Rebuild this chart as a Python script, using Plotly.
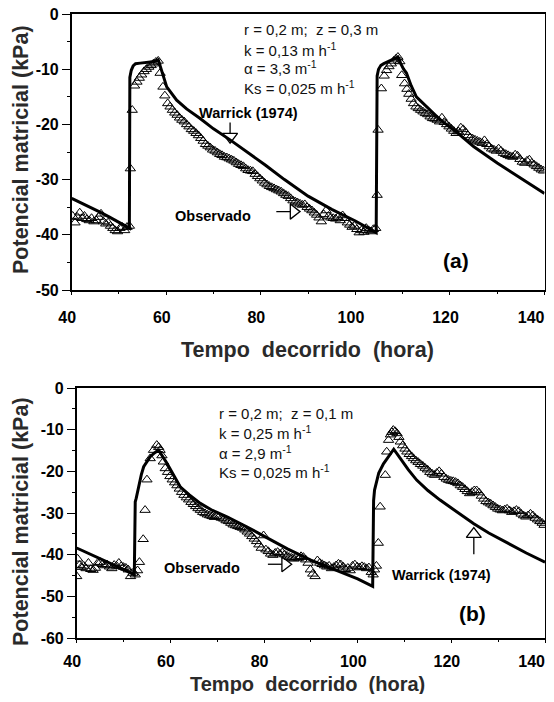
import plotly.graph_objects as go

# The page body has an 8 px margin; the figure is sized so the page does not
# overflow the 554x702 window, and positions are given in window pixels.
WIN_W, WIN_H = 554, 702
OFF = 8
W, H = WIN_W - 2 * OFF, WIN_H - 2 * OFF

# ---------------- data: panel (a) r=0.2 m, z=0.3 m ----------------
obs_a_hours = [40.2, 40.7, 41.2, 41.7, 42.2, 42.7, 43.2, 43.7, 44.2, 44.7, 45.2, 45.7, 46.2, 46.7, 47.2, 47.7,
               48.2, 48.7, 49.2, 49.7, 50.2, 50.7, 51.2, 51.7, 52.2,
               52.4, 52.8, 53.3, 53.8, 54.3, 54.8, 55.3, 55.8, 56.3, 56.8, 57.3, 57.8, 58.3, 58.7, 59.3, 59.7,
               60.3, 60.8, 61.3, 61.8, 62.3, 62.8, 63.3, 63.8, 64.3, 64.8, 65.3, 65.8, 66.3, 66.8, 67.3, 67.8,
               68.3, 68.8, 69.3, 69.8, 70.3, 70.8, 71.3, 71.8, 72.3, 72.8, 73.3, 73.8, 74.3, 74.8, 75.3, 75.8,
               76.3, 76.8, 77.3, 77.8, 78.3, 78.8, 79.3, 79.8, 80.3, 80.8, 81.3, 81.8, 82.3, 82.8, 83.3, 83.8,
               84.3, 84.8, 85.3, 85.8, 86.3, 86.8, 87.3, 87.8, 88.3, 88.8, 89.3, 89.8, 90.3, 90.8, 91.3, 91.8,
               92.3, 92.8, 93.3, 93.8, 94.3, 94.8, 95.3, 95.8, 96.3, 96.8, 97.3, 97.8, 98.3, 98.8, 99.3, 99.8,
               100.3, 100.8, 101.3, 101.8, 102.3, 102.8, 103.3, 103.8, 104.3,
               104.6, 104.8, 105.5, 106.1, 106.6, 107.1, 107.6, 108.1, 108.6, 109.0, 109.4, 109.8, 110.4, 110.9,
               111.3, 111.8, 112.3, 112.8, 113.3, 113.8, 114.3, 114.8, 115.3, 115.8, 116.3, 116.8, 117.3, 117.8,
               118.3, 118.8, 119.3, 119.8, 120.3, 120.8, 121.3, 121.8, 122.3, 122.8, 123.3, 123.8, 124.3, 124.8,
               125.3, 125.8, 126.3, 126.8, 127.3, 127.8, 128.3, 128.8, 129.3, 129.8, 130.3, 130.8, 131.3, 131.8,
               132.3, 132.8, 133.3, 133.8, 134.3, 134.8, 135.3, 135.8, 136.3, 136.8, 137.3, 137.8, 138.3, 138.8,
               139.3, 139.8]
obs_a_kpa = [-36.6, -37.8, -36.8, -36.0, -37.0, -36.6, -37.2, -37.4, -37.0, -37.6, -37.4, -36.8, -36.2, -37.6,
             -38.0, -37.8, -38.4, -38.8, -39.2, -39.4, -38.8, -38.6, -39.2, -38.6, -38.4,
             -28.0, -17.4, -13.0, -12.3, -11.6, -11.0, -10.4, -10.0, -9.6, -9.3, -9.0, -8.7, -8.5, -10.7, -13.2,
             -14.8, -16.2, -16.8, -17.4, -17.9, -18.3, -18.8, -19.2, -19.5, -20.0, -20.4, -20.9, -21.2, -21.6,
             -22.0, -22.5, -23.0, -23.6, -23.9, -24.2, -24.6, -24.8, -25.1, -25.4, -25.6, -25.9, -26.0, -26.2,
             -26.4, -26.6, -26.9, -27.2, -27.4, -27.6, -28.0, -28.3, -28.4, -28.5, -29.0, -29.4, -29.8, -30.2,
             -30.6, -30.9, -31.2, -31.4, -31.6, -31.8, -32.0, -32.2, -32.5, -32.8, -33.0, -33.4, -33.8, -34.0,
             -34.2, -34.4, -34.6, -34.5, -35.0, -35.3, -35.6, -36.0, -36.4, -36.9, -37.6, -36.3, -35.6, -36.6,
             -36.9, -37.0, -37.1, -36.8, -37.4, -36.5, -37.0, -37.8, -38.2, -38.6, -38.4, -39.0, -39.6, -39.2,
             -39.5, -38.8, -39.2, -39.4, -39.0, -38.8,
             -32.8, -21.0, -13.5, -11.2, -10.2, -9.5, -9.0, -8.5, -8.1, -7.8, -8.6, -11.1, -12.6, -13.6, -14.5,
             -15.4, -16.2, -16.8, -17.1, -17.4, -17.7, -18.0, -18.2, -18.6, -18.9, -19.0, -19.2, -19.5, -18.8,
             -19.6, -20.0, -20.4, -20.8, -21.2, -21.6, -21.3, -20.6, -20.9, -21.4, -22.0, -22.4, -22.6, -22.8,
             -23.0, -23.2, -23.4, -22.9, -23.6, -24.0, -24.4, -24.6, -24.8, -24.4, -24.8, -25.2, -25.4, -25.6,
             -25.8, -25.9, -25.5, -25.7, -26.3, -26.8, -27.0, -26.6, -26.4, -27.0, -27.3, -27.6, -27.9, -28.2,
             -28.4]

warrick_a_hours = [40, 42, 44, 46, 48, 50, 52.2, 52.3, 52.6, 53.0, 53.5, 54.5, 56, 57.5, 58.3, 59.0, 60.1,
                   62.2, 64.3, 67.1, 70, 73.5, 77, 81, 85, 90, 95, 100, 104.4,
                   104.6, 104.9, 105.4, 106, 107, 108, 109, 109.6, 110.2, 110.8, 111.8, 112.9, 115, 118,
                   121.4, 125, 130, 135, 140]
warrick_a_kpa = [-33.4, -34.2, -35.0, -35.9, -36.8, -37.7, -38.8, -11.5, -10.2, -9.4, -9.0, -8.9, -8.8,
                 -8.6, -8.3, -10.2, -13.2, -15.6, -17.2, -18.9, -20.8, -22.8, -24.9, -27.4, -30.0, -33.0,
                 -35.4, -37.5, -39.6,
                 -11.2, -10.0, -9.3, -9.0, -8.6, -8.2, -7.8, -9.0, -10.0, -10.7, -13.0, -15.0, -16.8,
                 -19.2, -21.4, -24.0, -27.0, -29.8, -32.5]

# ---------------- data: panel (b) r=0.2 m, z=0.1 m ----------------
obs_b_hours = [40.0, 40.2, 40.6, 41.0, 41.5, 42.0, 42.5, 43.0, 43.5, 44.0, 44.5, 45.0, 45.5, 46.0, 46.5, 47.0,
               47.5, 48.0, 48.5, 49.0, 49.5, 50.0, 50.5, 51.0, 51.5, 52.0, 52.5, 53.0, 53.4, 54.2, 54.6, 55.0,
               55.7, 56.4, 57.1, 57.5, 57.8, 58.2, 58.5, 58.9, 59.4, 59.9, 60.4, 60.9, 61.4, 61.9, 62.4, 62.9,
               63.4, 63.9, 64.4, 64.9, 65.4, 65.9, 66.4, 66.9, 67.4, 67.9, 68.4, 68.9, 69.4, 69.9, 70.4, 70.9,
               71.4, 71.9, 72.4, 72.9, 73.4, 73.9, 74.4, 74.9, 75.4, 75.9, 76.4, 76.9, 77.4, 77.9, 78.4, 78.9,
               79.4, 79.9, 80.4, 80.9, 81.4, 81.9, 82.4, 82.9, 83.4, 83.9, 84.4, 84.9, 85.4, 85.9, 86.4, 86.9,
               87.4, 87.9, 88.4, 88.9, 89.4, 89.9, 90.4, 90.9, 91.4, 91.9, 92.4, 92.9, 93.4, 93.9, 94.4, 94.9,
               95.4, 95.9, 96.4, 96.9, 97.4, 97.9, 98.4, 98.9, 99.4, 99.9, 100.4, 100.9, 101.4, 101.9, 102.4,
               102.9, 103.3, 103.6, 104.0, 104.4, 104.8, 105.9, 106.2, 106.6, 107.0, 107.3, 107.6, 108.0, 108.4,
               108.8, 109.1, 109.6, 110.1, 110.5, 111.0, 111.5, 111.9, 112.4, 112.9, 113.4, 113.9, 114.4, 114.9,
               115.4, 115.9, 116.4, 116.9, 117.4, 117.9, 118.4, 118.9, 119.4, 119.9, 120.4, 120.9, 121.4, 121.9,
               122.4, 122.9, 123.4, 123.9, 124.4, 124.9, 125.4, 125.9, 126.4, 126.9, 127.4, 127.9, 128.4, 128.9,
               129.4, 129.9, 130.4, 130.9, 131.4, 131.9, 132.4, 132.9, 133.4, 133.9, 134.4, 134.9, 135.4, 135.9,
               136.4, 136.9, 137.4, 137.9, 138.4, 138.9, 139.4, 139.8]
obs_b_kpa = [-45.2, -41.0, -42.5, -43.0, -42.7, -43.3, -42.0, -43.5, -43.7, -43.2, -42.0, -41.8, -42.3, -42.6,
             -42.4, -42.9, -43.3, -42.5, -42.7, -42.0, -42.8, -43.0, -43.2, -43.6, -45.2, -44.4, -44.8, -43.8,
             -41.8, -36.3, -29.3, -22.0, -16.9, -14.9, -13.7, -14.2, -14.9, -16.2, -17.7, -19.3, -20.2, -21.2,
             -22.0, -22.7, -23.4, -24.2, -25.0, -25.7, -26.3, -26.8, -27.4, -27.9, -28.4, -28.9, -29.3, -29.8,
             -30.1, -30.4, -30.6, -30.8, -31.0, -30.7, -30.9, -31.2, -31.4, -31.8, -32.0, -32.4, -32.8, -33.0,
             -33.2, -33.4, -33.6, -34.0, -34.5, -35.0, -35.6, -36.2, -36.8, -37.6, -38.4, -35.4, -38.8, -39.2,
             -39.8, -40.1, -39.6, -39.4, -39.8, -39.5, -40.0, -40.3, -40.6, -40.8, -41.0, -40.6, -40.8, -40.4,
             -40.6, -41.2, -42.0, -43.6, -44.6, -45.2, -41.4, -42.0, -42.3, -42.6, -42.9, -42.7, -43.3, -43.0,
             -42.6, -42.2, -42.4, -42.9, -43.5, -43.2, -43.8, -42.7, -42.4, -42.9, -43.1, -42.8, -43.0, -43.3,
             -43.1, -44.2, -44.8, -43.6, -42.7, -37.2, -28.5, -20.9, -15.3, -12.5, -11.2, -10.6, -10.1, -10.4,
             -10.9, -11.8, -12.9, -13.8, -14.6, -15.3, -15.9, -16.4, -16.9, -17.4, -17.8, -18.3, -18.7, -19.2,
             -19.6, -20.2, -20.6, -20.9, -20.4, -20.0, -20.6, -21.4, -21.8, -22.1, -22.3, -22.4, -22.6, -22.9,
             -23.4, -23.8, -24.3, -24.8, -25.3, -25.0, -24.6, -24.6, -25.1, -25.9, -26.6, -27.2, -27.5, -27.8,
             -28.2, -28.6, -29.0, -29.2, -29.4, -29.2, -29.0, -29.4, -29.8, -29.6, -29.3, -29.6, -30.2, -30.6,
             -30.9, -30.6, -30.2, -30.6, -31.2, -31.6, -32.0, -32.4, -32.9]

warrick_b_hours = [40, 44, 48, 52.3, 52.5, 52.7, 53.0, 53.3, 53.8, 54.3, 55.0, 55.7, 56.6, 57.5, 59.3, 60.5,
                   62.1, 64, 66.4, 69, 72.1, 76.3, 80, 85, 90, 95, 100, 103.2,
                   103.4, 103.6, 104.0, 104.5, 105.5, 106.6, 107.7, 109.1, 110.8, 112.6, 115, 117.6, 121.9,
                   124.8, 128, 132, 136, 140]
warrick_b_kpa = [-38.4, -40.4, -42.5, -44.8, -27.3, -26.5, -25.0, -22.9, -20.8, -18.9, -17.6, -16.5, -15.6,
                 -14.9, -18.1, -20.4, -23.7, -25.6, -27.7, -29.4, -30.9, -33.3, -35.6, -38.6, -41.3, -43.6,
                 -45.8, -47.6,
                 -27.0, -24.5, -22.3, -20.4, -18.2, -16.5, -14.7, -16.9, -19.6, -22.1, -24.6, -26.9, -30.4,
                 -32.6, -34.8, -37.3, -39.6, -41.8]

# ---------------- axes / labels ----------------
x_range = [40, 140]
x_ticks = [40, 60, 80, 100, 120, 140]
x_ticktext = ["40", "60", "80", "100", "120", "140"]
x_minor = [50, 70, 90, 110, 130]
ya_range = [-50, 0]
ya_ticks = [-50, -40, -30, -20, -10, 0]
ya_ticktext = ["-50", "-40", "-30", "-20", "-10", "0"]
ya_minor = [-45, -35, -25, -15, -5]
yb_range = [-60, 0]
yb_ticks = [-60, -50, -40, -30, -20, -10, 0]
yb_ticktext = ["-60", "-50", "-40", "-30", "-20", "-10", "0"]
yb_minor = [-55, -45, -35, -25, -15, -5]

x_title = "Tempo\u00a0 decorrido\u00a0 (hora)"
y_title = "Potencial matricial (kPa)"
params_a = ["r = 0,2 m;\u00a0 z = 0,3 m", "k = 0,13 m h<sup>-1</sup>", "\u03b1 = 3,3 m<sup>-1</sup>",
            "Ks = 0,025 m h<sup>-1</sup>"]
params_b = ["r = 0,2 m;\u00a0 z = 0,1 m", "k = 0,25 m h<sup>-1</sup>", "\u03b1 = 2,9 m<sup>-1</sup>",
            "Ks = 0,025 m h<sup>-1</sup>"]

# label / arrow anchor points (data units)
warrick_a_label = (77.3, -17.9)
warrick_a_tip = (73.5, -23.4)
observado_a_label = (69.9, -36.6)
observado_a_tip = (88.3, -35.8)
panel_a_label = (121.3, -44.6)
warrick_b_label = (118.0, -44.8)
warrick_b_tip = (124.8, -33.5)
observado_b_label = (66.8, -43.1)
observado_b_tip = (85.9, -42.3)
panel_b_label = (124.5, -54.2)


# ---------------- layout geometry (window pixels -> paper) ----------------
def px(p):
    return (p - OFF) / W


def py(p):
    return 1 - (p - OFF) / H


xa_dom = [px(71.7), px(544.5)]
ya_dom = [py(290), py(14)]
xb_dom = [px(76.7), px(545)]
yb_dom = [py(638), py(388)]

FONT = "Liberation Sans, Arial, sans-serif"

fig = go.Figure()

obs_style = dict(mode="markers", marker=dict(symbol="triangle-up-open", size=9, color="black",
                                             line=dict(width=1, color="black")), showlegend=False,
                 hoverinfo="skip")
line_style = dict(mode="lines", line=dict(color="black", width=3), showlegend=False, hoverinfo="skip")

fig.add_trace(go.Scatter(x=obs_a_hours, y=obs_a_kpa, xaxis="x", yaxis="y", **obs_style))
fig.add_trace(go.Scatter(x=warrick_a_hours, y=warrick_a_kpa, xaxis="x", yaxis="y", **line_style))
fig.add_trace(go.Scatter(x=obs_b_hours, y=obs_b_kpa, xaxis="x2", yaxis="y2", **obs_style))
fig.add_trace(go.Scatter(x=warrick_b_hours, y=warrick_b_kpa, xaxis="x2", yaxis="y2", **line_style))

HEAD = 13  # arrow-head marker size
r = HEAD / 2.0


def ppu(dom, rng, total):
    return (dom[1] - dom[0]) * total / (rng[1] - rng[0])


ppx_a, ppy_a = ppu(xa_dom, x_range, W), ppu(ya_dom, ya_range, H)
ppx_b, ppy_b = ppu(xb_dom, x_range, W), ppu(yb_dom, yb_range, H)

annotations = []


def arrow(tip, direction, shaft, xr, yr, ppx, ppy):
    """open-triangle arrow head (marker) plus a thin shaft (line), placed from the tip point."""
    tx, ty = tip
    if direction == "down":
        cx, cy = tx, ty + r / ppy
        b = (tx, ty + 1.5 * r / ppy)
        e = (tx, b[1] + shaft / ppy)
        sym = "triangle-down-open"
    elif direction == "up":
        cx, cy = tx, ty - r / ppy
        b = (tx, ty - 1.5 * r / ppy)
        e = (tx, b[1] - shaft / ppy)
        sym = "triangle-up-open"
    else:  # right
        cx, cy = tx - r / ppx, ty
        b = (tx - 1.5 * r / ppx, ty)
        e = (b[0] - shaft / ppx, ty)
        sym = "triangle-right-open"
    fig.add_trace(go.Scatter(x=[b[0], e[0]], y=[b[1], e[1]], xaxis=xr, yaxis=yr, mode="lines",
                             line=dict(color="black", width=1.3), showlegend=False, hoverinfo="skip"))
    fig.add_trace(go.Scatter(x=[cx], y=[cy], xaxis=xr, yaxis=yr, mode="markers",
                             marker=dict(symbol=sym, size=HEAD, color="black", line=dict(width=1.3)),
                             showlegend=False, hoverinfo="skip"))


arrow(warrick_a_tip, "down", 11, "x", "y", ppx_a, ppy_a)
arrow(observado_a_tip, "right", 14, "x", "y", ppx_a, ppy_a)
arrow(warrick_b_tip, "up", 17, "x2", "y2", ppx_b, ppy_b)
arrow(observado_b_tip, "right", 14, "x2", "y2", ppx_b, ppy_b)

lab_font = dict(family=FONT, size=14.5, color="black", weight="bold")
for (pos, txt, xr, yr) in [(warrick_a_label, "Warrick (1974)", "x", "y"),
                           (observado_a_label, "Observado", "x", "y"),
                           (warrick_b_label, "Warrick (1974)", "x2", "y2"),
                           (observado_b_label, "Observado", "x2", "y2")]:
    annotations.append(dict(x=pos[0], y=pos[1], xref=xr, yref=yr, text=txt, showarrow=False,
                            font=lab_font, xanchor="center", yanchor="middle"))

for (pos, txt, xr, yr) in [(panel_a_label, "(a)", "x", "y"), (panel_b_label, "(b)", "x2", "y2")]:
    annotations.append(dict(x=pos[0], y=pos[1], xref=xr, yref=yr, text=txt, showarrow=False,
                            font=dict(family=FONT, size=21, color="black", weight="bold"),
                            xanchor="center", yanchor="middle"))

par_font = dict(family=FONT, size=15, color="#111")
for i, txt in enumerate(params_a):
    annotations.append(dict(x=px(241.7), y=py(30 + 19 * i), xref="paper", yref="paper", text=txt,
                            showarrow=False, font=par_font, xanchor="left", yanchor="middle"))
for i, txt in enumerate(params_b):
    annotations.append(dict(x=px(216.7), y=py(413 + 19.5 * i), xref="paper", yref="paper", text=txt,
                            showarrow=False, font=par_font, xanchor="left", yanchor="middle"))

yt_font = dict(family=FONT, size=21.5, color="#2a2a2a", weight="bold")
for ycen, fsize in ((350, 21.5), (684, 20)):
    annotations.append(dict(x=px(307), y=py(ycen), xref="paper", yref="paper", text=x_title,
                            showarrow=False, xanchor="center", yanchor="middle",
                            font=dict(family=FONT, size=fsize, color="#2a2a2a", weight="bold")))
for ycen in (150, 522):
    annotations.append(dict(x=px(21), y=py(ycen), xref="paper", yref="paper", text=y_title,
                            showarrow=False, font=yt_font, xanchor="center", yanchor="middle",
                            textangle=-90))

tick_font = dict(family=FONT, size=16, color="black", weight="bold")
common = dict(showgrid=False, zeroline=False, fixedrange=True, automargin=False)
# x tick labels sit slightly left of their ticks in the reference (last one most)
x_ticktext_shown = [t + "\u00a0" * (6 if t == "140" else 2) for t in x_ticktext]


def xaxis_main(dom, anchor, standoff):
    return dict(domain=dom, anchor=anchor, range=x_range, tickvals=x_ticks, ticktext=x_ticktext_shown,
                ticks="outside", ticklen=3, tickwidth=1.3, tickcolor="black",
                minor=dict(tickvals=x_minor, ticks="outside", ticklen=2, tickwidth=1.3, tickcolor="black"),
                showline=True, linewidth=1.5, linecolor="black", mirror=True,
                tickfont=tick_font, ticklabelstandoff=standoff, ticklabeloverflow="allow", **common)


def xaxis_over(dom, anchor, over):
    return dict(domain=dom, anchor=anchor, overlaying=over, range=x_range, tickvals=x_ticks,
                ticks="inside", ticklen=6, tickwidth=1.3, tickcolor="black", showticklabels=False,
                minor=dict(tickvals=x_minor, ticks="inside", ticklen=4, tickwidth=1.3, tickcolor="black"),
                showline=False, **common)


def yaxis_main(dom, anchor, rng, tv, tt, minor_vals):
    return dict(domain=dom, anchor=anchor, range=rng, tickvals=tv, ticktext=tt,
                ticks="outside", ticklen=8, tickwidth=1.3, tickcolor="black",
                minor=dict(tickvals=minor_vals, ticks="outside", ticklen=3, tickwidth=1.3, tickcolor="black"),
                showline=True, linewidth=1.5, linecolor="black", mirror=True,
                tickfont=tick_font, ticklabeloverflow="allow", **common)


def yaxis_over(dom, anchor, over, rng, tv, minor_vals):
    return dict(domain=dom, anchor=anchor, overlaying=over, range=rng, tickvals=tv,
                ticks="inside", ticklen=2, tickwidth=1.3, tickcolor="black", showticklabels=False,
                minor=dict(tickvals=minor_vals, ticks="inside", ticklen=3, tickwidth=1.3, tickcolor="black"),
                showline=False, **common)


fig.update_layout(
    width=W, height=H, margin=dict(l=0, r=0, t=0, b=0, autoexpand=False),
    paper_bgcolor="white", plot_bgcolor="white", showlegend=False,
    font=dict(family=FONT, color="black"),
    xaxis=xaxis_main(xa_dom, "y", 9),
    yaxis=yaxis_main(ya_dom, "x", ya_range, ya_ticks, ya_ticktext, ya_minor),
    xaxis2=xaxis_main(xb_dom, "y2", 5),
    yaxis2=yaxis_main(yb_dom, "x2", yb_range, yb_ticks, yb_ticktext, yb_minor),
    xaxis3=xaxis_over(xa_dom, "y", "x"),
    yaxis3=yaxis_over(ya_dom, "x", "y", ya_range, ya_ticks, ya_minor),
    xaxis4=xaxis_over(xb_dom, "y2", "x2"),
    yaxis4=yaxis_over(yb_dom, "x2", "y2", yb_range, yb_ticks, yb_minor),
    annotations=annotations,
)

fig.write_html("out.html")
